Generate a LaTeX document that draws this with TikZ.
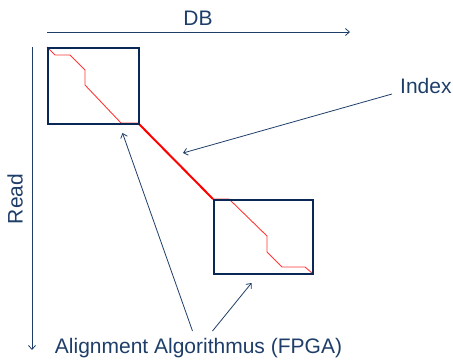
\documentclass[tikz,border=0pt]{standalone}
\usepackage{fontspec}
\setmainfont{Liberation Sans}
\usetikzlibrary{arrows.meta}
\definecolor{navy}{RGB}{30,62,105}
\definecolor{boxblue}{RGB}{10,40,85}
\definecolor{lred}{RGB}{255,55,55}
\begin{document}
\begin{tikzpicture}[x=1pt,y=-1pt,
  lbl/.style={text=navy,font=\fontsize{21}{21}\selectfont,inner sep=0pt},
  ptr/.style={draw=navy,line width=0.8pt,-{Straight Barb[length=4pt,width=7pt]}},
  blk/.style={draw=boxblue,line width=1.8pt},
  trace/.style={draw=lred,line width=0.9pt}]
\useasboundingbox (0,0) rectangle (453,360);
% axes
\coordinate (dbs) at (47,32);
\coordinate (dbe) at (350,32);
\draw[ptr] (dbs) -- (dbe);
\node[lbl] (db) at (198,18) {DB};
\coordinate (rds) at (32,47);
\coordinate (rde) at (32,350);
\draw[ptr] (rds) -- (rde);
\node[lbl,rotate=90] (read) at (15,199) {Read};
% boxes
\coordinate (b1a) at (47,47);
\coordinate (b1b) at (138,123);
\coordinate (b2a) at (213,199);
\coordinate (b2b) at (312,273);
% traces
\draw[trace] (b1a) -- (55,55) -- (70,55) -- (85,70) -- (85,85) -- (121,123) -- (b1b);
\draw[trace] (b2a) -- (229,199) -- (267,236) -- (267,252) -- (282,267) -- (305,267) -- (b2b);
\draw[draw=red,line width=2pt] (b1b) -- (b2a);
\node[blk,minimum width=91pt,minimum height=76pt,inner sep=0pt,anchor=north west] (box1) at (b1a) {};
\node[blk,minimum width=99pt,minimum height=74pt,inner sep=0pt,anchor=north west] (box2) at (b2a) {};
% labels
\node[lbl,anchor=west] (index) at (400,86) {Index};
\coordinate (it) at (183,153);
\draw[ptr] (392,94) -- (it);
\node[lbl] (alg) at (198.5,348) {Alignment Algorithmus (FPGA)};
\coordinate (a1s) at (192.5,331);
\coordinate (a1t) at (122.5,133);
\coordinate (a2s) at (212.5,331);
\coordinate (a2t) at (251.5,283);
\draw[ptr] (a1s) -- (a1t);
\draw[ptr] (a2s) -- (a2t);
\end{tikzpicture}
\end{document}
